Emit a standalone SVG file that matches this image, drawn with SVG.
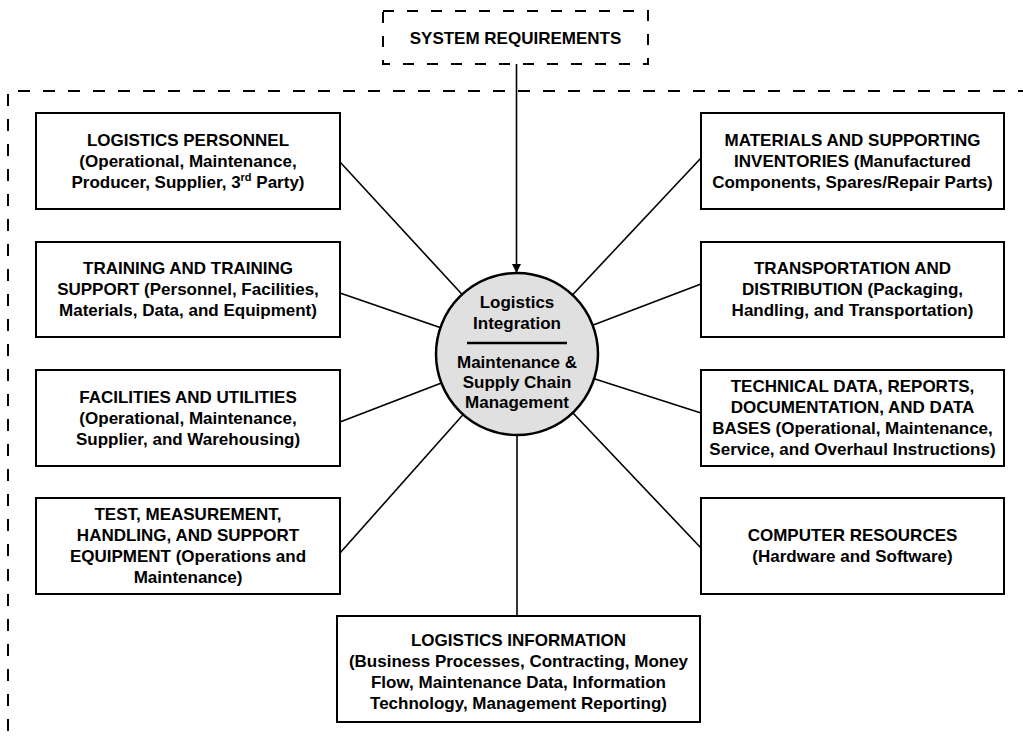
<svg xmlns="http://www.w3.org/2000/svg" width="1023" height="739" viewBox="0 0 1023 739">
<style>
.box{fill:#fff;stroke:#000;stroke-width:2}
.dash{fill:none;stroke:#000;stroke-width:2;stroke-dasharray:12 13}
.dash2{fill:none;stroke:#000;stroke-width:2;stroke-dasharray:11 13}
.ln{stroke:#000;stroke-width:1.6;fill:none}
.t{font-family:"Liberation Sans",Arial,Helvetica,sans-serif;font-weight:bold;font-size:17px;text-anchor:middle;fill:#000}
</style>
<defs>
<marker id="arr" markerWidth="10" markerHeight="10" refX="9" refY="5" orient="auto" markerUnits="userSpaceOnUse">
<path d="M0,0.5 L9,5 L0,9.5 Z" fill="#000"/>
</marker>
</defs>
<rect x="0" y="0" width="1023" height="739" fill="#fff"/>
<g id="boundary">
<path class="dash" d="M1030,91 L8,91 L8,745"/>
</g>
<g id="connectors">
<line class="ln" x1="516.5" y1="64" x2="516.5" y2="273" marker-end="url(#arr)"/>
<line class="ln" x1="340" y1="162" x2="517" y2="354"/>
<line class="ln" x1="340" y1="293" x2="517" y2="354"/>
<line class="ln" x1="340" y1="422" x2="517" y2="354"/>
<line class="ln" x1="340" y1="553" x2="517" y2="354"/>
<line class="ln" x1="701" y1="158" x2="517" y2="354"/>
<line class="ln" x1="701" y1="284" x2="517" y2="354"/>
<line class="ln" x1="701" y1="413" x2="517" y2="354"/>
<line class="ln" x1="701" y1="548" x2="517" y2="354"/>
<line class="ln" x1="517" y1="354" x2="517" y2="616"/>
</g>
<g id="system-requirements">
<rect class="dash2" x="383" y="11" width="265" height="53"/>
<text class="t" x="515.5" y="44">SYSTEM REQUIREMENTS</text>
</g>
<g id="center">
<circle cx="517" cy="354" r="81" fill="#e0e0e0" stroke="#000" stroke-width="2.5"/>
<text class="t" x="517" y="308">Logistics</text>
<text class="t" x="517" y="329">Integration</text>
<line x1="467" y1="343" x2="567" y2="343" stroke="#000" stroke-width="2.5"/>
<text class="t" x="517" y="368">Maintenance &amp;</text>
<text class="t" x="517" y="388">Supply Chain</text>
<text class="t" x="517" y="408">Management</text>
</g>
<g id="logistics-personnel">
<rect class="box" x="36" y="113" width="304" height="96"/>
<text class="t" x="188" y="146">LOGISTICS PERSONNEL</text>
<text class="t" x="188" y="167">(Operational, Maintenance,</text>
<text class="t" x="188" y="188">Producer, Supplier, 3<tspan font-size="11" dy="-7">rd</tspan><tspan dy="7"> Party)</tspan></text>
</g>
<g id="training">
<rect class="box" x="36" y="242" width="304" height="95"/>
<text class="t" x="188" y="274">TRAINING AND TRAINING</text>
<text class="t" x="188" y="295">SUPPORT (Personnel, Facilities,</text>
<text class="t" x="188" y="316">Materials, Data, and Equipment)</text>
</g>
<g id="facilities">
<rect class="box" x="36" y="370" width="304" height="96"/>
<text class="t" x="188" y="403">FACILITIES AND UTILITIES</text>
<text class="t" x="188" y="424">(Operational, Maintenance,</text>
<text class="t" x="188" y="445">Supplier, and Warehousing)</text>
</g>
<g id="test-equipment">
<rect class="box" x="36" y="498" width="304" height="96"/>
<text class="t" x="188" y="520">TEST, MEASUREMENT,</text>
<text class="t" x="188" y="541">HANDLING, AND SUPPORT</text>
<text class="t" x="188" y="562">EQUIPMENT (Operations and</text>
<text class="t" x="188" y="583">Maintenance)</text>
</g>
<g id="materials">
<rect class="box" x="701" y="113" width="303" height="96"/>
<text class="t" x="852.5" y="146">MATERIALS AND SUPPORTING</text>
<text class="t" x="852.5" y="167">INVENTORIES (Manufactured</text>
<text class="t" x="852.5" y="188">Components, Spares/Repair Parts)</text>
</g>
<g id="transportation">
<rect class="box" x="701" y="242" width="303" height="95"/>
<text class="t" x="852.5" y="274">TRANSPORTATION AND</text>
<text class="t" x="852.5" y="295">DISTRIBUTION (Packaging,</text>
<text class="t" x="852.5" y="316">Handling, and Transportation)</text>
</g>
<g id="technical-data">
<rect class="box" x="701" y="370" width="303" height="96"/>
<text class="t" x="852.5" y="392">TECHNICAL DATA, REPORTS,</text>
<text class="t" x="852.5" y="413">DOCUMENTATION, AND DATA</text>
<text class="t" x="852.5" y="434">BASES (Operational, Maintenance,</text>
<text class="t" x="852.5" y="455">Service, and Overhaul Instructions)</text>
</g>
<g id="computer-resources">
<rect class="box" x="701" y="498" width="303" height="96"/>
<text class="t" x="852.5" y="541">COMPUTER RESOURCES</text>
<text class="t" x="852.5" y="562">(Hardware and Software)</text>
</g>
<g id="logistics-information">
<rect class="box" x="337" y="616" width="363" height="106"/>
<text class="t" x="518.5" y="646">LOGISTICS INFORMATION</text>
<text class="t" x="518.5" y="667">(Business Processes, Contracting, Money</text>
<text class="t" x="518.5" y="688">Flow, Maintenance Data, Information</text>
<text class="t" x="518.5" y="709">Technology, Management Reporting)</text>
</g>
</svg>
